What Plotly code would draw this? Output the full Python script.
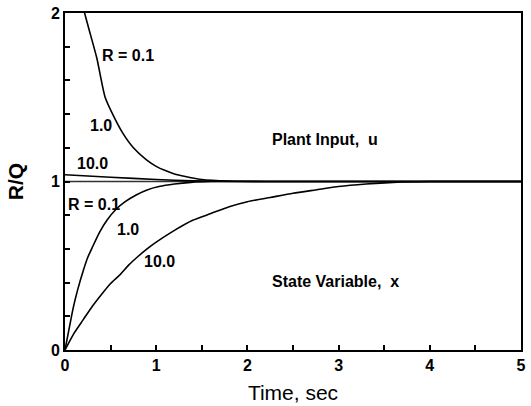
import plotly.graph_objects as go

# ---- data ----
# Plant input u, R = 1.0 (steep curve, clipped at the top)
u1_t = [0.0, 0.1, 0.215, 0.28, 0.35, 0.44, 0.54, 0.63, 0.75, 0.89, 1.0, 1.1, 1.2, 1.32, 1.5, 1.8, 2.2, 3.0, 4.0, 5.0]
u1_v = [2.6, 2.26, 2.0, 1.87, 1.73, 1.50, 1.38, 1.29, 1.20, 1.13, 1.09, 1.065, 1.045, 1.03, 1.012, 1.003, 1.0, 1.0, 1.0, 1.0]

# Plant input u, R = 10.0
u10_t = [0.0, 0.5, 1.0, 1.4, 2.0, 3.0, 4.0, 5.0]
u10_v = [1.04, 1.025, 1.012, 1.004, 1.0, 1.0, 1.0, 1.0]

# State variable x, R = 1.0
x1_t = [0.0, 0.05, 0.09, 0.14, 0.2, 0.25, 0.3, 0.38, 0.46, 0.56, 0.66, 0.78, 0.9, 1.03, 1.2, 1.38, 1.6, 2.0, 3.0, 4.0, 5.0]
x1_v = [0.0, 0.14, 0.25, 0.36, 0.47, 0.55, 0.61, 0.70, 0.77, 0.835, 0.88, 0.92, 0.95, 0.97, 0.985, 0.995, 1.0, 1.0, 1.0, 1.0, 1.0]

# State variable x, R = 10.0
x10_t = [0.0, 0.1, 0.2, 0.3, 0.4, 0.5, 0.6, 0.7, 0.8, 0.9, 1.0, 1.2, 1.4, 1.6, 1.8, 2.0, 2.25, 2.5, 2.75, 3.0, 3.3, 3.6, 4.0, 5.0]
x10_v = [0.0, 0.10, 0.18, 0.26, 0.33, 0.395, 0.445, 0.505, 0.555, 0.60, 0.64, 0.71, 0.77, 0.81, 0.85, 0.88, 0.905, 0.93, 0.95, 0.97, 0.985, 0.995, 1.0, 1.0]

# R = 0.1: both u and x settle at 1 almost at once (line along R/Q = 1)
r01_t = [0.0, 5.0]
r01_v = [1.0, 1.0]

# labels: (text, t, value)
labels = [
    ("R = 0.1", 0.69, 1.747),
    ("1.0", 0.39, 1.33),
    ("10.0", 0.30, 1.106),
    ("Plant Input,  u", 2.85, 1.25),
    ("R = 0.1", 0.32, 0.865),
    ("1.0", 0.69, 0.718),
    ("10.0", 1.04, 0.524),
    ("State Variable,  x", 2.97, 0.406),
]

x_ticks = [0, 1, 2, 3, 4, 5]
y_ticks = [0, 1, 2]

FONT = "Liberation Sans, Arial, sans-serif"
line_style = dict(color="black", width=1.6, shape="spline", smoothing=0.6)

fig = go.Figure()
fig.add_trace(go.Scatter(x=r01_t, y=r01_v, mode="lines",
                         line=dict(color="#333333", width=1.3), hoverinfo="skip"))
for tt, vv in [(u1_t, u1_v), (u10_t, u10_v), (x1_t, x1_v), (x10_t, x10_v)]:
    fig.add_trace(go.Scatter(x=tt, y=vv, mode="lines", line=line_style))

for text, t, v in labels:
    fig.add_annotation(x=t, y=v, xref="x", yref="y", text="<b>" + text + "</b>",
                       showarrow=False, xanchor="center", yanchor="middle",
                       font=dict(family=FONT, size=16, color="black"))

fig.update_layout(
    width=531, height=406,
    margin=dict(l=65, r=5, t=12, b=54),
    paper_bgcolor="white", plot_bgcolor="white",
    showlegend=False,
    font=dict(family=FONT, color="black"),
    xaxis=dict(
        range=[0, 5], tickvals=x_ticks, ticktext=[str(v) for v in x_ticks],
        ticks="inside", ticklen=5, tickwidth=1.5, tickcolor="black",
        minor=dict(dtick=0.5, ticks="inside", ticklen=5, tickwidth=1.5, tickcolor="black"),
        showline=True, linewidth=2, linecolor="black", mirror=True,
        showgrid=False, zeroline=False,
        tickfont=dict(family=FONT, size=16, color="black", weight="bold"),
        title=dict(text="Time, sec", font=dict(family=FONT, size=21, color="black"), standoff=12),
    ),
    yaxis=dict(
        range=[0, 2], tickvals=y_ticks, ticktext=[str(v) for v in y_ticks],
        ticks="inside", ticklen=5, tickwidth=1.5, tickcolor="black",
        minor=dict(dtick=0.2, ticks="inside", ticklen=5, tickwidth=1.5, tickcolor="black"),
        showline=True, linewidth=2, linecolor="black", mirror=True,
        showgrid=False, zeroline=False,
        tickfont=dict(family=FONT, size=16, color="black", weight="bold"),
        title=dict(text="<b>R/Q</b>", font=dict(family=FONT, size=21, color="black"), standoff=22),
    ),
)

fig.write_html("out.html", config={"displayModeBar": False},
               post_script="document.body.style.margin='0';")
